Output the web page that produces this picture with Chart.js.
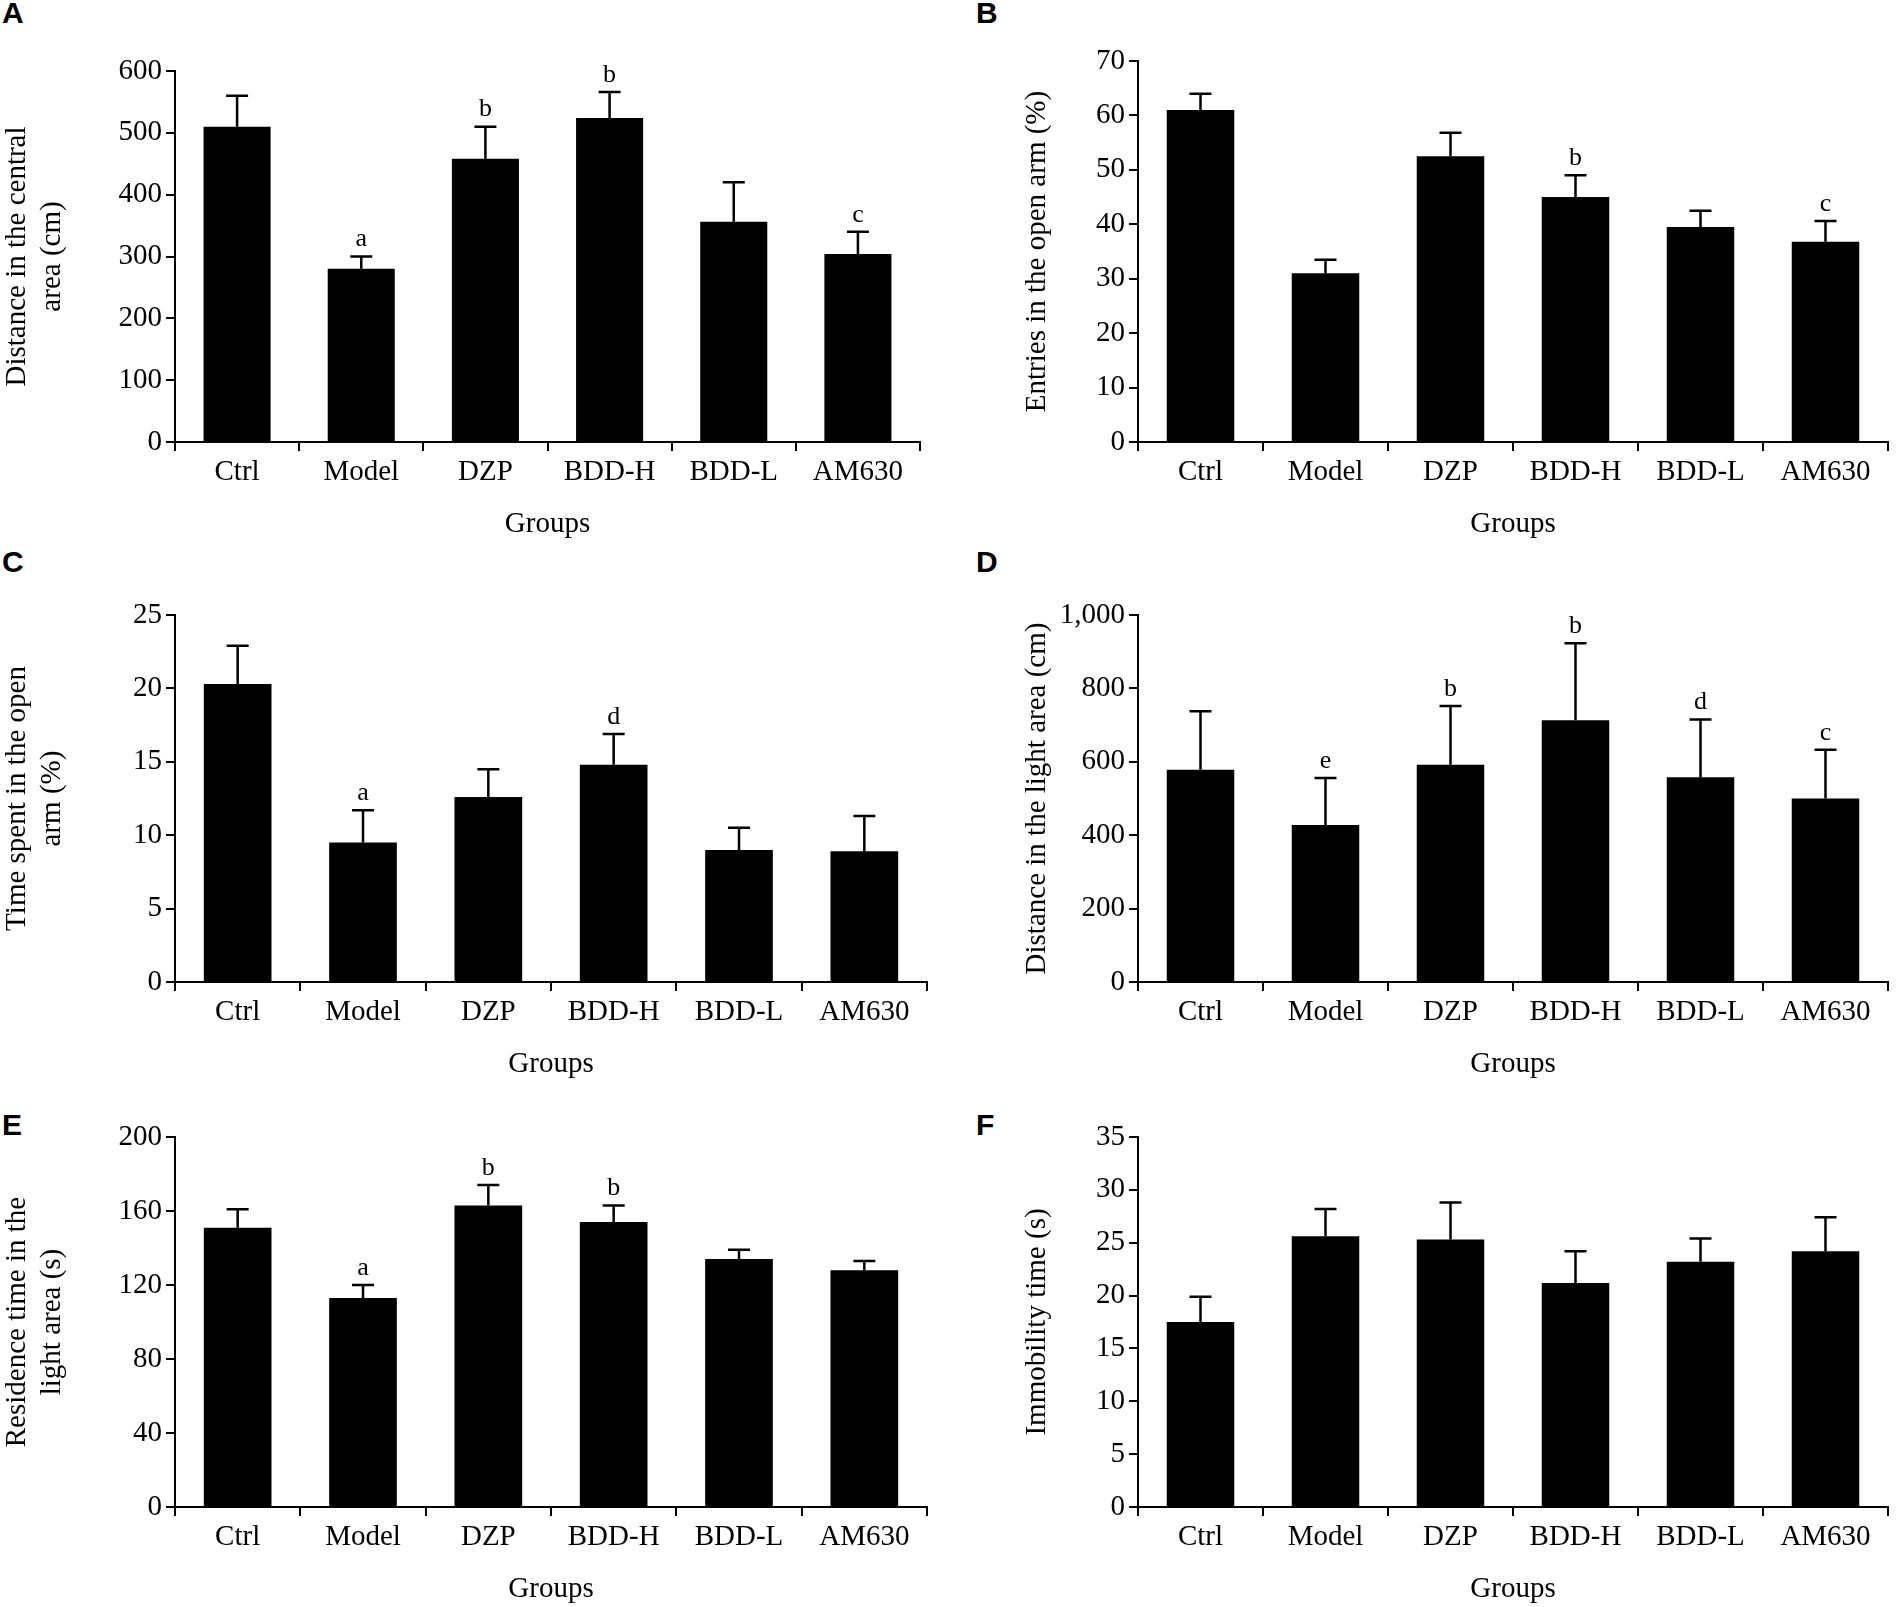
<!DOCTYPE html>
<html><head><meta charset="utf-8">
<script src="https://cdn.jsdelivr.net/npm/chart.js@4"></script>
<style>
body{margin:0;background:#fff;width:1898px;height:1607px;position:relative;overflow:hidden}
canvas{position:absolute}
.lab{position:absolute;font:bold 30px "Liberation Sans",Arial,sans-serif;color:#000}
</style></head><body>
<div class="lab" style="left:2px;top:-4px">A</div>
<div class="lab" style="left:976px;top:-4px">B</div>
<div class="lab" style="left:2px;top:545px">C</div>
<div class="lab" style="left:976px;top:545px">D</div>
<div class="lab" style="left:2px;top:1108px">E</div>
<div class="lab" style="left:976px;top:1108px">F</div>
<canvas id="cA"></canvas><canvas id="cB"></canvas><canvas id="cC"></canvas>
<canvas id="cD"></canvas><canvas id="cE"></canvas><canvas id="cF"></canvas>
<script>
const groups = ['Ctrl', 'Model', 'DZP', 'BDD-H', 'BDD-L', 'AM630'];

const meanA = [510, 280, 458, 524, 356, 304];
const errA = [50, 20, 52, 42, 64, 36];
const sigA = ['', 'a', 'b', 'b', '', 'c'];

const meanB = [61, 31, 52.5, 45, 39.5, 36.8];
const errB = [3, 2.5, 4.3, 4, 3, 3.8];
const sigB = ['', '', '', 'b', '', 'c'];

const meanC = [20.3, 9.5, 12.6, 14.8, 9.0, 8.9];
const errC = [2.6, 2.2, 1.9, 2.1, 1.5, 2.4];
const sigC = ['', 'a', '', 'd', '', ''];

const meanD = [578, 428, 592, 713, 558, 500];
const errD = [160, 128, 160, 210, 157, 133];
const sigD = ['', 'e', 'b', 'b', 'd', 'c'];

const meanE = [151, 113, 163, 154, 134, 128];
const errE = [10, 7, 11, 9, 5, 5];
const sigE = ['', 'a', 'b', 'b', '', ''];

const meanF = [17.5, 25.6, 25.3, 21.2, 23.2, 24.2];
const errF = [2.4, 2.6, 3.5, 3, 2.2, 3.2];
const sigF = ['', '', '', '', '', ''];

const SERIF = '"Liberation Serif","DejaVu Serif",serif';
Chart.defaults.color = '#000';
Chart.defaults.font.family = SERIF;

// error bars (upper cap only) and significance letters
const errorPlugin = {
    id: 'errorBars',
    afterDatasetsDraw(chart, args, opts) {
        const ctx = chart.ctx;
        const meta = chart.getDatasetMeta(0);
        const y = chart.scales.y;
        ctx.save();
        ctx.strokeStyle = '#000';
        ctx.lineWidth = 2.5;
        meta.data.forEach((bar, i) => {
            const top = y.getPixelForValue(opts.mean[i] + opts.err[i]);
            ctx.beginPath();
            ctx.moveTo(bar.x, bar.y);
            ctx.lineTo(bar.x, top);
            ctx.moveTo(bar.x - 11, top);
            ctx.lineTo(bar.x + 11, top);
            ctx.stroke();
            if (opts.sig[i]) {
                ctx.fillStyle = '#000';
                ctx.font = '26px ' + SERIF;
                ctx.textAlign = 'center';
                ctx.textBaseline = 'bottom';
                ctx.fillText(opts.sig[i], bar.x, top - 4);
            }
        });
        ctx.restore();
    }
};

function makePanel(id, p) {
    const padTop = 40, xH = 100;
    const el = document.getElementById(id);
    const w = p.right + 12 - p.canvasLeft;
    const h = (p.bottom - p.top) + padTop + xH;
    el.width = w; el.height = h;
    el.style.left = p.canvasLeft + 'px';
    el.style.top = (p.top - padTop) + 'px';
    new Chart(el, {
        type: 'bar',
        data: {
            labels: groups,
            datasets: [{ data: p.mean, backgroundColor: '#000', barPercentage: 0.54, categoryPercentage: 1 }]
        },
        options: {
            responsive: false,
            devicePixelRatio: 1,
            animation: false,
            layout: { padding: { top: padTop, right: 12, left: 0, bottom: 0 } },
            plugins: { legend: { display: false }, tooltip: { enabled: false }, errorBars: p },
            scales: {
                x: {
                    offset: true,
                    grid: { offset: true, drawOnChartArea: false, color: '#000', lineWidth: 2, tickLength: 9 },
                    border: { color: '#000', width: 2 },
                    ticks: { font: { size: 29 }, padding: 4, maxRotation: 0, autoSkip: false },
                    title: { display: true, text: 'Groups', font: { size: 29 }, padding: 0 },
                    afterFit: s => { s.height = xH; }
                },
                y: {
                    min: 0, max: p.max,
                    grid: { drawOnChartArea: false, color: '#000', lineWidth: 2, tickLength: 9 },
                    border: { color: '#000', width: 2 },
                    ticks: { stepSize: p.step, font: { size: 29 }, padding: 4 },
                    title: { display: true, text: p.title, font: { size: 29 }, padding: 0 },
                    afterFit: s => { s.width = p.left - p.canvasLeft; }
                }
            }
        },
        plugins: [errorPlugin]
    });
}

makePanel('cA', { canvasLeft: 0, left: 175, right: 920, top: 71, bottom: 442, max: 600, step: 100,
    title: ['Distance in the central', 'area (cm)'], mean: meanA, err: errA, sig: sigA });
makePanel('cB', { canvasLeft: 1020, left: 1138, right: 1888, top: 61, bottom: 442, max: 70, step: 10,
    title: 'Entries in the open arm (%)', mean: meanB, err: errB, sig: sigB });
makePanel('cC', { canvasLeft: 0, left: 175, right: 927, top: 615, bottom: 982, max: 25, step: 5,
    title: ['Time spent in the open', 'arm (%)'], mean: meanC, err: errC, sig: sigC });
makePanel('cD', { canvasLeft: 1020, left: 1138, right: 1888, top: 615, bottom: 982, max: 1000, step: 200,
    title: 'Distance in the light area (cm)', mean: meanD, err: errD, sig: sigD });
makePanel('cE', { canvasLeft: 0, left: 175, right: 927, top: 1137, bottom: 1507, max: 200, step: 40,
    title: ['Residence time in the', 'light area (s)'], mean: meanE, err: errE, sig: sigE });
makePanel('cF', { canvasLeft: 1020, left: 1138, right: 1888, top: 1137, bottom: 1507, max: 35, step: 5,
    title: 'Immobility time (s)', mean: meanF, err: errF, sig: sigF });
</script>
</body></html>
